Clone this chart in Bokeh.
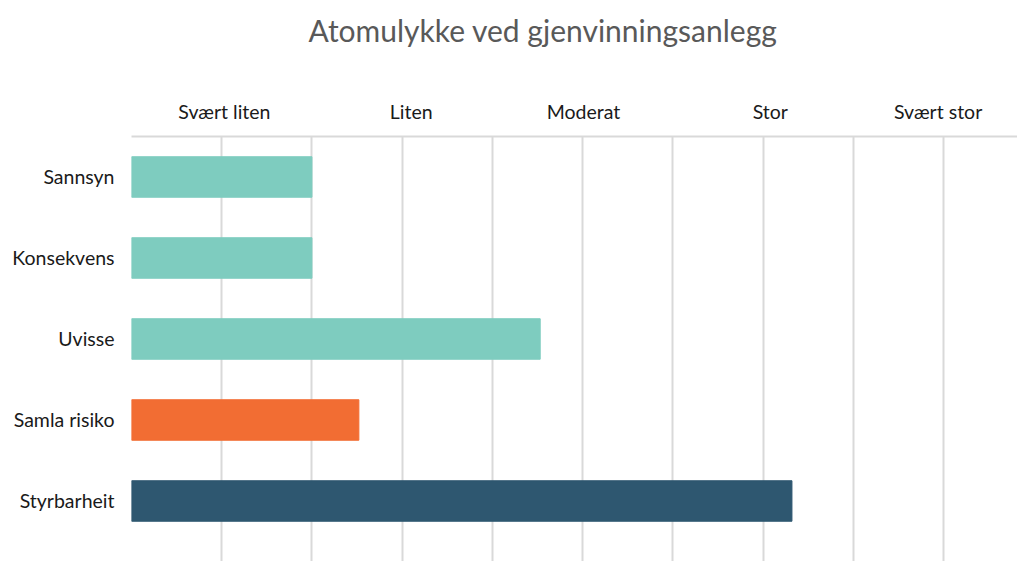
from bokeh.plotting import figure
from bokeh.models import Range1d, FixedTicker, ColumnDataSource
from bokeh.embed import file_html
from bokeh.resources import INLINE

title_text = "Atomulykke ved gjenvinningsanlegg"
categories = ["Sannsyn", "Konsekvens", "Uvisse", "Samla risiko", "Styrbarheit"]
values = [2.0, 2.0, 4.53, 2.52, 7.32]
colors = ["#7ECCBF", "#7ECCBF", "#7ECCBF", "#F26D33", "#2E5770"]
level_labels = ["Svært liten", "Liten", "Moderat", "Stor", "Svært stor"]
level_positions = [1.03, 3.1, 5.01, 7.08, 8.94]
grid_positions = list(range(0, 10))

FONT = "Lato"

p = figure(width=1017, height=561, output_backend="svg", toolbar_location=None,
           x_range=Range1d(0, 9.82), y_range=Range1d(4.747, -0.5),
           x_axis_location="above", min_border_left=131, min_border_right=0,
           min_border_top=136, min_border_bottom=0, title=title_text)

p.title.text_font = FONT
p.title.text_font_size = "30px"
p.title.text_font_style = "normal"
p.title.text_color = "#595959"
p.title.align = "left"
p.title.offset = 177
p.title.standoff = 18

src = ColumnDataSource(dict(y=list(range(len(categories))), v=values, c=colors))
p.hbar(y="y", left=0, right="v", height=0.5, color="c", source=src)

p.outline_line_color = None
p.background_fill_color = "white"
p.border_fill_color = "white"

xa = p.xaxis[0]
xa.ticker = FixedTicker(ticks=level_positions)
xa.major_label_overrides = {pos: lab for pos, lab in zip(level_positions, level_labels)}
xa.major_tick_line_color = None
xa.minor_tick_line_color = None
xa.axis_line_color = "#d9d9d9"
xa.axis_line_width = 2
xa.major_label_text_font = FONT
xa.major_label_text_font_size = "19.5px"
xa.major_label_text_color = "#1a1a1a"
xa.major_label_standoff = 8
# blank axis label used only as vertical spacing between title and level labels
xa.axis_label = " "
xa.axis_label_text_font_size = "20px"
xa.axis_label_standoff = 15

ya = p.yaxis[0]
ya.ticker = FixedTicker(ticks=list(range(len(categories))))
ya.major_label_overrides = {i: c for i, c in enumerate(categories)}
ya.major_tick_line_color = None
ya.minor_tick_line_color = None
ya.axis_line_color = None
ya.major_label_text_font = FONT
ya.major_label_text_font_size = "19.5px"
ya.major_label_text_color = "#1a1a1a"
ya.major_label_standoff = 11

p.xgrid.ticker = FixedTicker(ticks=grid_positions)
p.xgrid.grid_line_color = "#d9d9d9"
p.xgrid.grid_line_width = 2
p.ygrid.grid_line_color = None

open("out.html", "w").write(file_html(p, INLINE))
